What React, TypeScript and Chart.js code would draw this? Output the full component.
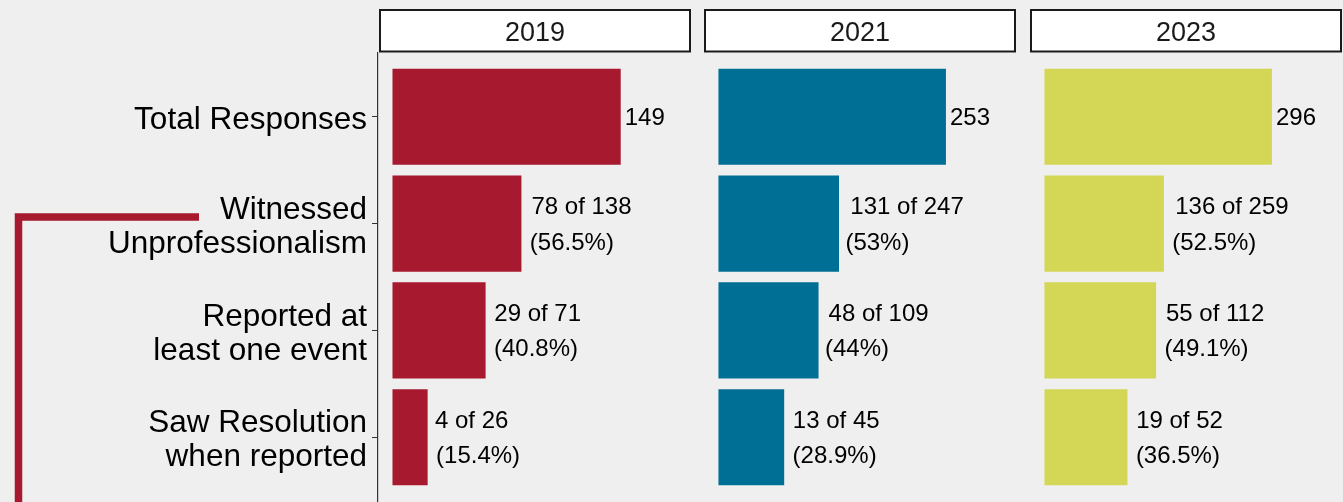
import React, { useEffect, useRef } from 'react';
import { Chart, registerables } from 'chart.js';

Chart.register(...registerables);

// ---------------- data ----------------
const years = ['2019', '2021', '2023'];
const categories = [
  ['Total Responses'],
  ['Witnessed', 'Unprofessionalism'],
  ['Reported at', 'least one event'],
  ['Saw Resolution', 'when reported'],
];
const totalResponses = [149, 253, 296];
const witnessedCount = [78, 131, 136];
const witnessedBase = [138, 247, 259];
const witnessedPct = [56.5, 53, 52.5];
const reportedCount = [29, 48, 55];
const reportedBase = [71, 109, 112];
const reportedPct = [40.8, 44, 49.1];
const resolvedCount = [4, 13, 19];
const resolvedBase = [26, 45, 52];
const resolvedPct = [15.4, 28.9, 36.5];
const totalPct = [100, 100, 100];

// ---------------- style ----------------
const yearColors = ['#A6192E', '#006F95', '#D4D756'];
const FONT = '"Liberation Sans", Arial, Helvetica, sans-serif';
const BG = '#EFEFEF';
const W = 1343;
const H = 502;
const X_MIN = -0.0635;
const X_MAX = 1.308;

const panelLayout = [
  { left: 0, width: 691, axis: true },
  { left: 704, width: 312, axis: false },
  { left: 1030, width: 312, axis: false },
];

function barLabels(k: number): string[][] {
  return [
    [String(totalResponses[k])],
    [`${witnessedCount[k]} of ${witnessedBase[k]}`, `(${witnessedPct[k]}%)`],
    [`${reportedCount[k]} of ${reportedBase[k]}`, `(${reportedPct[k]}%)`],
    [`${resolvedCount[k]} of ${resolvedBase[k]}`, `(${resolvedPct[k]}%)`],
  ];
}

function barValues(k: number): number[] {
  return [totalPct[k], witnessedPct[k], reportedPct[k], resolvedPct[k]];
}

function Panel({ k }: { k: number }) {
  const ref = useRef<HTMLCanvasElement | null>(null);
  const lay = panelLayout[k];

  useEffect(() => {
    const canvas = ref.current;
    if (!canvas) return;
    const labels = barLabels(k);
    const values = barValues(k);

    const stripPlugin = {
      id: 'strip',
      afterDraw(chart: any) {
        const { ctx, chartArea } = chart;
        const inset = lay.axis ? 1 : 0;
        const x0 = chartArea.left + inset;
        const x1 = chartArea.right;
        ctx.save();
        ctx.fillStyle = '#FFFFFF';
        ctx.fillRect(x0, 9, x1 - x0, 43.5);
        ctx.strokeStyle = '#1A1A1A';
        ctx.lineWidth = 2;
        ctx.strokeRect(x0 + 1, 10, x1 - x0 - 2, 41.5);
        ctx.fillStyle = '#1A1A1A';
        ctx.font = `27px ${FONT}`;
        ctx.textAlign = 'center';
        ctx.textBaseline = 'alphabetic';
        ctx.fillText(years[k], (x0 + x1) / 2, 40.7);
        ctx.restore();
      },
    };

    const labelPlugin = {
      id: 'barLabels',
      afterDatasetsDraw(chart: any) {
        const { ctx } = chart;
        const meta = chart.getDatasetMeta(0);
        ctx.save();
        ctx.fillStyle = '#000000';
        ctx.font = `24px ${FONT}`;
        ctx.textAlign = 'left';
        ctx.textBaseline = 'alphabetic';
        meta.data.forEach((el: any, i: number) => {
          const lines = labels[i];
          const xEnd = el.x;
          const yc = el.y;
          const offs = lines.length === 1 ? [8.5] : [-9.5, 26];
          lines.forEach((t, j) => {
            const w = ctx.measureText(t).width;
            ctx.fillText(t, xEnd + 0.1 * w, yc + offs[j]);
          });
        });
        ctx.restore();
      },
    };

    const bracketPlugin = {
      id: 'bracket',
      afterDraw(chart: any) {
        if (!lay.axis) return;
        const { ctx } = chart;
        const yb = chart.scales.y.getPixelForValue(1) - 6.5;
        ctx.save();
        ctx.strokeStyle = yearColors[0];
        ctx.lineWidth = 7.5;
        ctx.lineJoin = 'miter';
        ctx.lineCap = 'butt';
        ctx.beginPath();
        ctx.moveTo(199, yb);
        ctx.lineTo(18.5, yb);
        ctx.lineTo(18.5, H + 10);
        ctx.stroke();
        ctx.restore();
      },
    };

    const yScale: any = {
      type: 'linear',
      min: -0.6,
      max: 3.6,
      reverse: true,
      offset: false,
      display: lay.axis,
      grid: {
        offset: false,
        drawOnChartArea: false,
        drawTicks: true,
        tickLength: 6,
        color: '#333333',
        lineWidth: 1,
      },
      border: { display: true, color: '#333333', width: 1.2 },
      ticks: {
        stepSize: 1,
        includeBounds: false,
        autoSkip: false,
        padding: 5,
        labelOffset: 3.5,
        color: '#000000',
        font: { family: FONT, size: 31.5, lineHeight: 34 / 31.5 },
        callback: (v: any) => {
          const idx = Math.round(Number(v));
          return categories[idx] ?? '';
        },
      },
    };
    if (lay.axis) {
      yScale.afterFit = (scale: any) => {
        scale.width = 378;
        scale.paddingTop = 0;
        scale.paddingBottom = 0;
      };
    }

    const chart = new Chart(canvas, {
      type: 'bar',
      data: {
        datasets: [
          {
            data: values.map((v, i) => ({ x: v / 100, y: i })),
            backgroundColor: yearColors[k],
            borderWidth: 0,
            barPercentage: 0.9,
            categoryPercentage: 1,
          },
        ],
      },
      options: {
        indexAxis: 'y',
        responsive: false,
        animation: false,
        events: [],
        layout: { padding: { top: 52.7, bottom: 0.7, left: 0, right: 0 } },
        plugins: {
          legend: { display: false },
          tooltip: { enabled: false },
          title: { display: false },
        },
        scales: {
          x: {
            type: 'linear',
            min: X_MIN,
            max: X_MAX,
            offset: false,
            display: false,
          },
          y: yScale,
        },
      } as any,
      plugins: [stripPlugin, labelPlugin, bracketPlugin],
    } as any);

    return () => {
      chart.destroy();
    };
  }, [k]);

  return (
    <canvas
      ref={ref}
      width={lay.width}
      height={H}
      style={{
        position: 'absolute',
        left: lay.left,
        top: 0,
        width: lay.width,
        height: H,
      }}
    />
  );
}

export default function App() {
  return (
    <div
      style={{
        position: 'fixed',
        left: 0,
        top: 0,
        width: W,
        height: H,
        background: BG,
        overflow: 'hidden',
      }}
    >
      {years.map((_, k) => (
        <Panel key={k} k={k} />
      ))}
    </div>
  );
}
